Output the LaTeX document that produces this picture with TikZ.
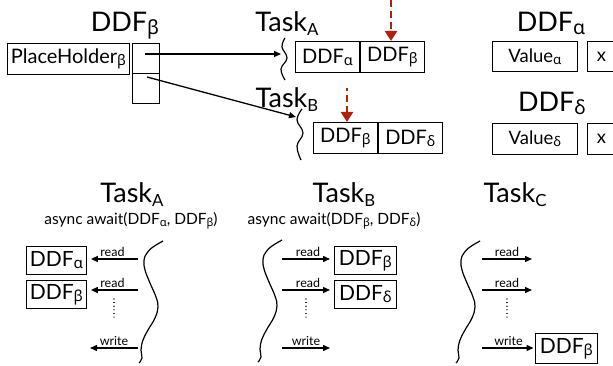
\documentclass[tikz,border=0pt]{standalone}
\usepackage{fontspec}
\setmainfont{Lato}
\newfontfamily\gk{Noto Sans}
\usepackage{graphicx}
\usetikzlibrary{arrows.meta}
\newcommand\sbx[1]{\raisebox{-0.12em}{\scalebox{0.62}{#1}}}
\newcommand\sgk[1]{\raisebox{-0.1em}{\scalebox{0.72}{\gk #1}}}
\newcommand\Gal{\sgk{α}}
\newcommand\Gbe{\sgk{β}}
\newcommand\Gde{\sgk{δ}}
\definecolor{ddred}{RGB}{178,32,12}
\tikzset{
  ttl/.style={font=\fontsize{27}{31}\selectfont, inner sep=0pt, anchor=base},
  cell/.style={draw, line width=0.9pt, inner sep=0pt, anchor=north west, font=\fontsize{20}{23}\selectfont},
  smallcell/.style={cell, font=\fontsize{18.5}{21}\selectfont},
  bigcell/.style={cell, font=\fontsize{21}{25}\selectfont},
  arr/.style={-{Triangle[length=7pt,width=6pt]}, line width=1.3pt},
  lbl/.style={font=\fontsize{12.5}{14}\selectfont, inner sep=1.5pt, above},
  asy/.style={font=\fontsize{15.5}{18}\selectfont, inner sep=0pt},
  reddash/.style={draw=ddred, line width=2.6pt, dash pattern=on 7pt off 4pt, -{Triangle[length=10pt,width=12pt]}},
  dotl/.style={line width=1.1pt, dash pattern=on 0.01pt off 3.6pt, line cap=round},
  wavel/.style={line width=1.2pt},
  wave/.pic={\draw[wavel] plot[smooth, tension=0.7] coordinates {(0,0) (-10,6) (-16,12) (-19,19) (-18,29) (-13,42) (-7,56) (-5,66) (-8,77) (-15,89) (-20,99) (-22,109) (-21,117) (-24,122)};}
}
\begin{document}
\begin{tikzpicture}[x=1pt,y=-1pt]
\useasboundingbox (0,0) rectangle (613,366);
\clip (0,0) rectangle (613,366);

% ---------- top left ----------
\node[ttl] (tDDFb) at (125,32) {DDF\Gbe};
\node[cell, minimum width=122pt, minimum height=31pt] (ph) at (7,43) {PlaceHolder\Gbe};
\node[cell, minimum width=27pt, minimum height=30pt] (s1) at (132,43) {};
\node[cell, minimum width=27pt, minimum height=30pt] (s2) at (132,73) {};
\coordinate (p1) at (145,54);
\coordinate (p2) at (147,77);

% ---------- top middle ----------
\node[ttl] (tTaskA) at (287,32) {Task\sbx{A}};
\node[ttl] (tTaskB) at (287,108) {Task\sbx{B}};
\draw[wavel] plot[smooth, tension=0.7] coordinates {(285,38) (282,47) (287,58) (281,69) (285,80)};
\draw[wavel] plot[smooth, tension=0.7] coordinates {(302,109) (297,120) (303,133) (297,146) (301,160)};
\coordinate (e1) at (281,54);
\coordinate (e2) at (296,117);
\draw[arr] (p1) -- (e1);
\draw[arr] (p2) -- (e2);

\node[cell, minimum width=64pt, minimum height=31pt] (ca1) at (295,41) {DDF\Gal};
\node[cell, minimum width=64pt, minimum height=31pt] (ca2) at (ca1.north east) {DDF\Gbe};
\node[cell, minimum width=64pt, minimum height=31pt] (cb1) at (313,122) {DDF\Gbe};
\node[cell, minimum width=64pt, minimum height=31pt] (cb2) at (cb1.north east) {DDF\Gde};

\coordinate (ra) at (391,0);
\draw[reddash] (ra) -- (ra |- ca2.north);
\coordinate (rb) at (347,88);
\draw[reddash, dash phase=4pt] (rb) -- (rb |- cb1.north);

% ---------- top right ----------
\node[ttl] (tDDFa) at (551,32) {DDF\Gal};
\node[smallcell, minimum width=85pt, minimum height=30pt] (va) at (492,41) {Value\Gal};
\node[smallcell, minimum width=28pt, minimum height=30pt] (xa) at (587,41) {x};
\node[ttl] (tDDFd) at (552,112) {DDF\Gde};
\node[smallcell, minimum width=85pt, minimum height=31pt] (vd) at (492,123) {Value\Gde};
\node[smallcell, minimum width=28pt, minimum height=31pt] (xd) at (587,123) {x};

% ---------- bottom: Task A ----------
\node[ttl] (bTA) at (132,203) {Task\sbx{A}};
\node[asy] (asA) at (131,221) {async await(DDF\Gal, DDF\Gbe)};
\node[bigcell, minimum width=60pt, minimum height=28pt] (bA1) at (26,246) {DDF\Gal};
\node[bigcell, minimum width=60pt, minimum height=28pt] (bA2) at (26,280) {DDF\Gbe};
\pic at (163,241) {wave};
\coordinate (a1) at (138,259);
\coordinate (a2) at (138,290);
\coordinate (a3) at (138,348);
\coordinate (a3e) at (90,348);
\draw[arr, shorten >=4pt] (a1) -- (a1 -| bA1.east) node[lbl, midway] {read};
\draw[arr, shorten >=4pt] (a2) -- (a2 -| bA2.east) node[lbl, midway] {read};
\draw[arr] (a3) -- (a3e) node[lbl, midway] {write};
\coordinate (dA1) at (114,299);
\coordinate (dA2) at (114,320);
\draw[dotl] (dA1) -- (dA2);

% ---------- bottom: Task B ----------
\node[ttl] (bTB) at (344,203) {Task\sbx{B}};
\node[asy] (asB) at (334,221) {async await(DDF\Gbe, DDF\Gde)};
\node[bigcell, minimum width=62pt, minimum height=28pt] (bB1) at (334,246) {DDF\Gbe};
\node[bigcell, minimum width=62pt, minimum height=28pt] (bB2) at (334,280) {DDF\Gde};
\pic at (282,240) {wave};
\coordinate (b1) at (282,259);
\coordinate (b2) at (282,290);
\coordinate (b3) at (282,348);
\coordinate (b3e) at (330,348);
\draw[arr, shorten >=4pt] (b1) -- (b1 -| bB1.west) node[lbl, midway] {read};
\draw[arr, shorten >=4pt] (b2) -- (b2 -| bB2.west) node[lbl, midway] {read};
\draw[arr] (b3) -- (b3e) node[lbl, midway] {write};
\coordinate (dB1) at (306,299);
\coordinate (dB2) at (306,320);
\draw[dotl] (dB1) -- (dB2);

% ---------- bottom: Task C ----------
\node[ttl] (bTC) at (515,203) {Task\sbx{C}};
\node[bigcell, minimum width=62pt, minimum height=30pt] (bC1) at (535,333) {DDF\Gbe};
\pic at (480,241) {wave};
\coordinate (c1) at (482,259);
\coordinate (c1e) at (532,259);
\coordinate (c2) at (482,290);
\coordinate (c2e) at (532,290);
\coordinate (c3) at (482,348);
\draw[arr] (c1) -- (c1e) node[lbl, midway] {read};
\draw[arr] (c2) -- (c2e) node[lbl, midway] {read};
\draw[arr, shorten >=1.5pt] (c3) -- (c3 -| bC1.west) node[lbl, midway] {write};
\coordinate (dC1) at (507,299);
\coordinate (dC2) at (507,320);
\draw[dotl] (dC1) -- (dC2);
\end{tikzpicture}
\end{document}
